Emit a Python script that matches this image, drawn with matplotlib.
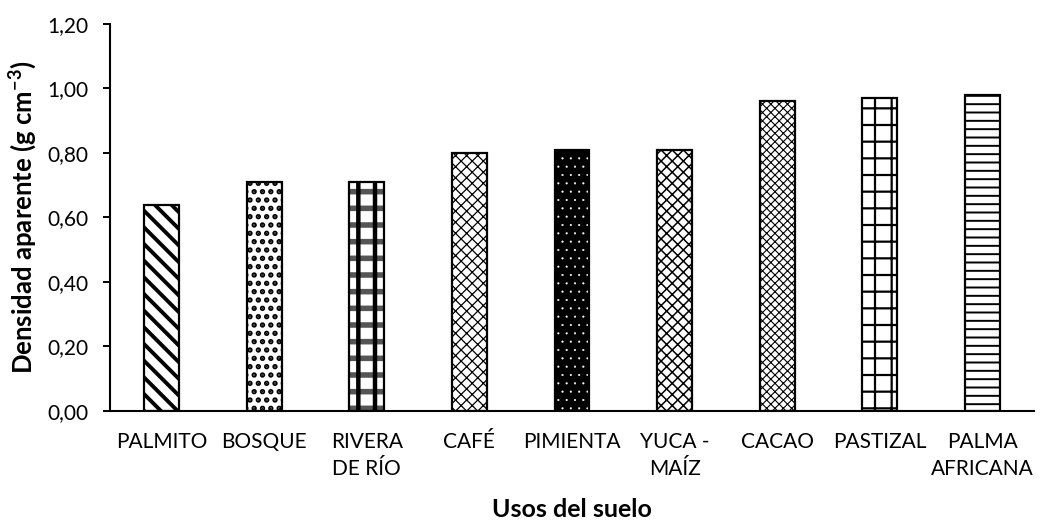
import matplotlib
matplotlib.use("Agg")
import matplotlib.pyplot as plt
from matplotlib.ticker import FuncFormatter

plt.rcParams['font.family'] = ['Lato', 'DejaVu Sans']

usos = ['PALMITO', 'BOSQUE', 'RIVERA\nDE RÍO', 'CAFÉ', 'PIMIENTA',
        'YUCA -\nMAÍZ', 'CACAO', 'PASTIZAL', 'PALMA\nAFRICANA']
densidad = [0.64, 0.71, 0.71, 0.80, 0.81, 0.81, 0.96, 0.97, 0.98]

# layers per bar: (hatch, hatch linewidth, face colour, hatch colour)
estilos = [
    [('\\\\', 2.8, 'white', 'black')],
    [('..', 2.6, 'white', 'black')],
    [('-', 4.0, 'white', '#555555'), ('|', 3.2, 'none', 'black')],
    [('xxx', 0.9, 'white', 'black')],
    [('..', 0.3, 'black', 'white')],
    [('xxx', 1.1, 'white', 'black')],
    [('xxxx', 0.8, 'white', 'black')],
    [('+', 1.6, 'white', 'black')],
    [('--', 1.4, 'white', 'black')],
]

fig = plt.figure(figsize=(10.4, 5.22), dpi=100)
ax = fig.add_axes([0.106, 0.213, 0.888, 0.741])

x = range(len(usos))
for i, capas in enumerate(estilos):
    for h, lw, fc, hc in capas:
        with plt.rc_context({'hatch.linewidth': lw}):
            ax.bar(i, densidad[i], width=0.34, color=fc, edgecolor=hc,
                   hatch=h, linewidth=0, zorder=2)
    ax.bar(i, densidad[i], width=0.34, color='none', edgecolor='black',
           linewidth=1.6, zorder=3)

ax.set_xlim(-0.5, len(usos) - 0.5)
ax.set_ylim(0, 1.2)
ax.set_yticks([0, 0.2, 0.4, 0.6, 0.8, 1.0, 1.2])
ax.yaxis.set_major_formatter(FuncFormatter(lambda v, p: f'{v:.2f}'.replace('.', ',')))
ax.set_xticks(list(x))
ax.set_xticklabels(usos, fontsize=15, linespacing=1.45)
ax.tick_params(axis='x', length=0, pad=15)
ax.tick_params(axis='y', labelsize=15, length=5, width=1.4, direction='out', pad=11)

for s in ['top', 'right']:
    ax.spines[s].set_visible(False)
for s in ['left', 'bottom']:
    ax.spines[s].set_linewidth(1.5)

ax.set_ylabel('Densidad aparente (g cm$^{\\mathregular{-3}}$)', fontsize=18.5,
              fontweight='bold', labelpad=6)
ax.set_xlabel('Usos del suelo', fontsize=18, fontweight='bold', labelpad=14)

fig.savefig('out.png', dpi=100)
